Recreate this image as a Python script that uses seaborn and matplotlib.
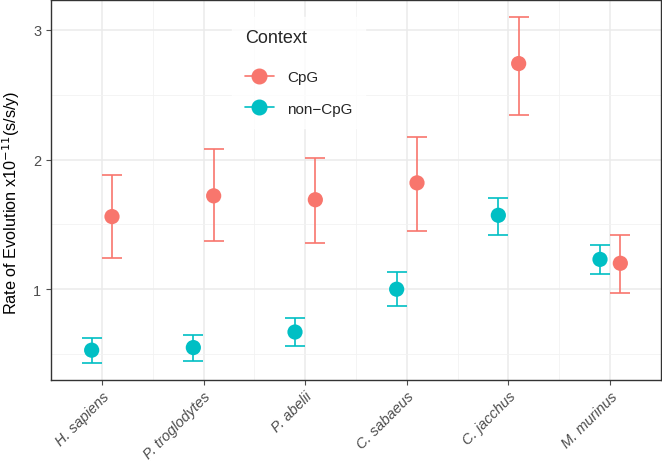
import numpy as np
import pandas as pd
import matplotlib
matplotlib.use("Agg")
import matplotlib.pyplot as plt
import seaborn as sns
from matplotlib.lines import Line2D
from matplotlib.ticker import MultipleLocator

species = ["H. sapiens", "P. troglodytes", "P. abelii", "C. sabaeus", "C. jacchus", "M. murinus"]
contexts = ["CpG", "non\u2212CpG"]

cpg_rate = [1.56, 1.72, 1.69, 1.82, 2.74, 1.20]
cpg_low = [1.24, 1.37, 1.36, 1.45, 2.34, 0.97]
cpg_high = [1.88, 2.08, 2.01, 2.17, 3.10, 1.42]

non_rate = [0.53, 0.55, 0.67, 1.00, 1.57, 1.23]
non_low = [0.43, 0.45, 0.56, 0.87, 1.42, 1.12]
non_high = [0.62, 0.65, 0.78, 1.13, 1.70, 1.34]

palette = {"CpG": "#F8766D", "non\u2212CpG": "#00BFC4"}
dodge = {"CpG": 0.1, "non\u2212CpG": -0.1}

df = pd.DataFrame({
    "species": species * 2,
    "context": [contexts[0]] * 6 + [contexts[1]] * 6,
    "rate": cpg_rate + non_rate,
    "low": cpg_low + non_low,
    "high": cpg_high + non_high,
})
df["pos"] = df["species"].map({s: i for i, s in enumerate(species)}) + df["context"].map(dodge)

sns.set_theme(style="white")
plt.rcParams["font.family"] = ["Liberation Sans", "DejaVu Sans"]

fig = plt.figure(figsize=(6.62, 4.64), dpi=100)
ax = fig.add_axes([51 / 662, 83 / 464, 610 / 662, 380 / 464])

# grid (theme_bw style)
ax.set_xlim(-0.45, 5.45)
ax.set_ylim(0.30, 3.23)
ax.yaxis.set_major_locator(MultipleLocator(1))
ax.yaxis.set_minor_locator(MultipleLocator(0.5))
ax.set_xticks(range(len(species)))
ax.set_xticks(np.arange(-0.5, len(species), 1), minor=True)
ax.grid(which="major", color="#EBEBEB", linewidth=1.1)
ax.grid(which="minor", color="#F2F2F2", linewidth=0.6)
ax.set_axisbelow(True)

for ctx in contexts:
    sub = df[df["context"] == ctx]
    ax.errorbar(sub["pos"], sub["rate"],
                yerr=[sub["rate"] - sub["low"], sub["high"] - sub["rate"]],
                fmt="none", ecolor=palette[ctx], elinewidth=1.2, capsize=7.5,
                capthick=1.2, zorder=2)

sns.scatterplot(data=df, x="pos", y="rate", hue="context", palette=palette,
                s=120, edgecolor="none", legend=False, ax=ax, zorder=3)

ax.set_xticklabels(species, rotation=45, ha="right", rotation_mode="anchor",
                   style="italic", fontsize=10.5, color="#4D4D4D")
ax.tick_params(axis="y", labelsize=10.5, colors="#4D4D4D", length=3.5, width=0.8)
ax.tick_params(axis="x", colors="#4D4D4D", length=3.5, width=0.8, pad=3)
ax.tick_params(which="minor", length=0)
ax.tick_params(axis="both", which="major", bottom=True, left=True)
for sp in ax.spines.values():
    sp.set_color("#333333")
    sp.set_linewidth(1.0)

ax.set_xlabel("")
ax.set_ylabel("Rate of Evolution x10$^{-11}$(s/s/y)", fontsize=11.7, color="black")
ax.yaxis.set_label_coords(-0.047, 0.47)

handles = [Line2D([0], [0], color=palette[c], marker="o", markersize=10.5,
                  linewidth=1.2) for c in contexts]
leg = ax.legend(handles, contexts, title="Context", loc="upper left",
                bbox_to_anchor=(0.285, 0.975), frameon=True, fontsize=11,
                title_fontsize=13, handlelength=1.9, labelspacing=1.15,
                borderpad=0.8, handletextpad=0.9, fancybox=False)
leg.get_frame().set_edgecolor("white")
leg.get_frame().set_facecolor("white")
leg._legend_box.align = "left"
leg._legend_box.sep = 17

fig.savefig("out.png", dpi=100)
